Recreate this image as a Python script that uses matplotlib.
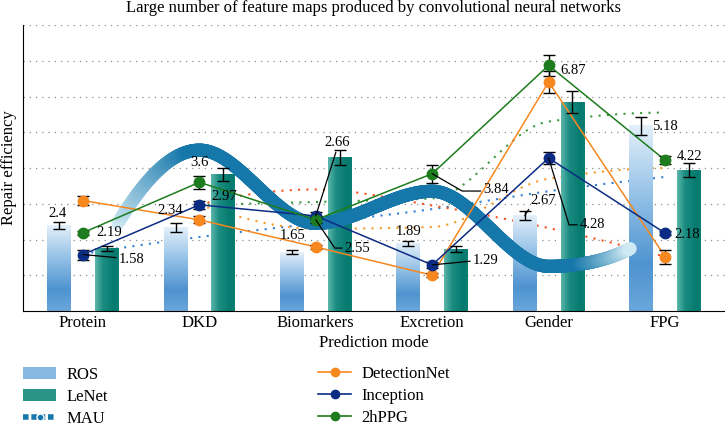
import numpy as np
import matplotlib
matplotlib.use('Agg')
import matplotlib.pyplot as plt
from matplotlib.colors import LinearSegmentedColormap, to_rgb
from matplotlib.collections import LineCollection
from matplotlib.lines import Line2D
from matplotlib.patches import Patch

plt.rcParams['font.family'] = ['Liberation Serif', 'DejaVu Serif']

# data
categories = ['Protein', 'DKD', 'Biomarkers', 'Excretion', 'Gender', 'FPG']
ros = [2.4, 2.34, 1.65, 1.89, 2.67, 5.18]
ros_err = [0.1, 0.12, 0.06, 0.08, 0.12, 0.26]
lenet = [1.75, 3.82, 4.29, 1.73, 5.84, 3.94]
lenet_err = [0.07, 0.19, 0.21, 0.08, 0.3, 0.2]
detectionnet = [3.09, 2.55, 1.79, 1.0, 6.41, 1.52]
det_err = [0.12, 0.1, 0.06, 0.06, 0.3, 0.2]
inception = [1.58, 2.97, 2.66, 1.29, 4.28, 2.18]
inc_err = [0.14, 0.12, 0.1, 0.08, 0.18, 0.06]
hppg = [2.19, 3.6, 2.55, 3.84, 6.87, 4.22]
hppg_err = [0.06, 0.18, 0.08, 0.25, 0.3, 0.12]
mau = [0.6, 4.5, 2.45, 3.35, 1.25, 2.4]

# dotted trend curves (first category index, values)
trend_blue = (0, [1.6, 2.07, 2.45, 2.85, 3.35, 3.75])
trend_red = (1, [2.97, 3.4, 2.95, 2.32, 1.52])
trend_orange = (1, [2.97, 2.3, 2.35, 3.7, 4.0])
trend_green = (1, [2.97, 3.05, 3.15, 5.3, 5.55])


def pchip_curve(start, vals, t0, t1, n=600):
    # monotone cubic through values placed at integer positions
    y = np.asarray(vals, float)
    k = len(y)
    d = np.diff(y)
    m = np.zeros(k)
    for i in range(1, k - 1):
        if d[i - 1] * d[i] > 0:
            m[i] = 2 / (1 / d[i - 1] + 1 / d[i])

    def end(d0, d1):
        s = (3 * d0 - d1) / 2
        if np.sign(s) != np.sign(d0):
            return 0.0
        if np.sign(d0) != np.sign(d1) and abs(s) > abs(3 * d0):
            return 3 * d0
        return s
    m[0] = end(d[0], d[1])
    m[-1] = end(d[-1], d[-2])
    t = np.linspace(t0, t1, n) - start
    i = np.clip(np.floor(t).astype(int), 0, k - 2)
    s = t - i
    h00 = 2 * s**3 - 3 * s**2 + 1
    h10 = s**3 - 2 * s**2 + s
    h01 = -2 * s**3 + 3 * s**2
    h11 = s**3 - s**2
    return t + start, h00 * y[i] + h10 * m[i] + h01 * y[i + 1] + h11 * m[i + 1]


fig = plt.figure(figsize=(7.25, 4.26), dpi=100)
ax = fig.add_axes([23 / 725, 1 - 311 / 426, 1 - 23 / 725, (311 - 25) / 426])
x = np.arange(len(categories))
bar_w = 0.205
off = 0.205

# gradient bars
ros_cmap = LinearSegmentedColormap.from_list(
    'ros', [(0, '#6aa7db'), (0.25, '#4f93cf'), (0.6, '#90bfe6'), (1, '#e4f0fa')])
lenet_cmap = LinearSegmentedColormap.from_list(
    'lenet', [(0, '#5cb6ab'), (0.35, '#1a8b80'), (0.8, '#077a6f'), (1, '#0c7f74')])
vgrad = np.linspace(0, 1, 256).reshape(-1, 1)
hgrad = np.linspace(0, 1, 256).reshape(1, -1)
for xi, h in zip(x - off, ros):
    ax.imshow(vgrad, cmap=ros_cmap, origin='lower', aspect='auto',
              extent=[xi - bar_w / 2, xi + bar_w / 2, 0, h], zorder=2)
for xi, h in zip(x + off, lenet):
    ax.imshow(hgrad, cmap=lenet_cmap, origin='lower', aspect='auto',
              extent=[xi - bar_w / 2, xi + bar_w / 2, 0, h], zorder=2)
ax.errorbar(x - off, ros, yerr=ros_err, fmt='none', ecolor='black',
            elinewidth=1, capsize=4, capthick=1, zorder=6)
ax.errorbar(x + off, lenet, yerr=lenet_err, fmt='none', ecolor='black',
            elinewidth=1, capsize=4, capthick=1, zorder=6)

# dotted trends
for (start, vals), color in [(trend_blue, '#3481d8'), (trend_red, '#f4511e'),
                             (trend_orange, '#f59a2a'), (trend_green, '#3c9a3c')]:
    tx, ty = pchip_curve(start, vals, start, len(vals) - 1 + start)
    ax.plot(tx, ty, color=color, lw=1.5, linestyle=(0, (1, 3)), zorder=1.5)

# MAU thick wave with faded ends
mx, my = pchip_curve(0, mau, 0.3, 4.7)
pts = np.column_stack([mx, my]).reshape(-1, 1, 2)
segs = np.concatenate([pts[:-1], pts[1:]], axis=1)
fade = np.clip(np.minimum((mx[:-1] - 0.3) / 0.6, (4.7 - mx[:-1]) / 0.45), 0, 1)
dark = np.array(to_rgb('#1677aa'))
light = np.array(to_rgb('#d6eef6'))
cols = light + (dark - light) * fade[:, None] ** 0.8
ax.add_collection(LineCollection(segs, colors=cols, linewidths=9.5,
                                 capstyle='round', zorder=3))

# solid series
series = [(detectionnet, det_err, '#f7871f', 'DetectionNet'),
          (inception, inc_err, '#0c2c84', 'Inception'),
          (hppg, hppg_err, '#1d7c1d', '2hPPG')]
for vals, err, color, lab in series:
    ax.plot(x, vals, color=color, lw=1.1, zorder=4)
    ax.errorbar(x, vals, yerr=err, fmt='none', ecolor='black',
                elinewidth=1, capsize=4, capthick=1, zorder=4.5)
    ax.plot(x, vals, linestyle='none', marker='o', ms=7.5, color=color, zorder=5)

# value labels
lab_kw = dict(fontsize=10.5, ha='center', va='center', zorder=7)
plain = [(ros[0], (-0.215, 2.74)), (hppg[0], (0.23, 2.19)), (hppg[1], (1.0, 4.14)),
         (inception[1], (1.21, 3.2)), (ros[1], (0.75, 2.8)), (ros[2], (1.8, 2.12)),
         (ros[3], (2.8, 2.21)), (hppg[4], (4.21, 6.74)), (ros[5], (5.0, 5.17)),
         (hppg[5], (5.21, 4.31)), (inception[5], (5.19, 2.13))]
for v, pos in plain:
    ax.text(pos[0], pos[1], f'{v:g}', **lab_kw)

leader = dict(arrowstyle='-', color='black', lw=0.9, shrinkA=0, shrinkB=0)
ax.annotate(f'{inception[0]:g}', (0, inception[0]), (0.42, 1.45),
            arrowprops=dict(**leader, relpos=(0, 0.6)), **lab_kw)
ax.annotate(f'{inception[2]:g}', (2, inception[2]), (2.18, 4.7),
            arrowprops=dict(**leader, relpos=(0.5, 0)), **lab_kw)
ax.annotate(f'{hppg[2]:g}', (2, hppg[2]), (2.36, 1.76),
            arrowprops=dict(**leader, relpos=(0, 0.5),
                            connectionstyle='angle,angleA=0,angleB=-56,rad=0'), **lab_kw)
ax.annotate(f'{inception[3]:g}', (3, inception[3]), (3.46, 1.4),
            arrowprops=dict(**leader, relpos=(0, 0.5)), **lab_kw)
ax.annotate(f'{hppg[3]:g}', (3, hppg[3]), (3.55, 3.41),
            arrowprops=dict(**leader, relpos=(0, 0.35),
                            connectionstyle='angle,angleA=0,angleB=-30,rad=0'), **lab_kw)
ax.annotate(f'{ros[4]:g}', (4 - off, ros[4]), (3.95, 3.1),
            arrowprops=dict(**leader, relpos=(0.05, 0.1)), **lab_kw)
ax.annotate(f'{inception[4]:g}', (4, inception[4]), (4.38, 2.41),
            arrowprops=dict(**leader, relpos=(0, 0.5),
                            connectionstyle='angle,angleA=0,angleB=-73,rad=0'), **lab_kw)

# axes styling
ax.set_xlim(-0.515, 5.515)
ax.set_ylim(0, 8)
ax.set_xticks(x)
ax.set_xticklabels(categories, fontsize=12)
ax.set_yticks(range(1, 9))
ax.yaxis.grid(True, linestyle=(0, (1, 4)), color='#8c8c8c', lw=0.9)
ax.set_axisbelow(True)
ax.tick_params(axis='y', length=0, labelleft=False)
ax.tick_params(axis='x', length=0, pad=3)
for side in ['top', 'right']:
    ax.spines[side].set_visible(False)
ax.set_xlabel('Prediction mode', fontsize=12, labelpad=3)
ax.set_ylabel('Repair efficiency', fontsize=12, labelpad=4)
fig.text(374 / 725, 1 - 8 / 426, 'Large number of feature maps produced by convolutional neural networks',
         fontsize=12, ha='center', va='center')

# legends
leg_kw = dict(loc='upper left', frameon=False, fontsize=12, handlelength=2.0,
              handletextpad=0.6, labelspacing=0.36, borderpad=0, borderaxespad=0)
left_handles = [Patch(facecolor='#86b8e3'), Patch(facecolor='#2a9488'),
                Line2D([], [], color='#1677aa', lw=4, linestyle=(0, (1, 0.5)),
                       marker='o', ms=5, mfc='#1677aa', mec='white')]
fig.legend(left_handles, ['ROS', 'LeNet', 'MAU'], bbox_to_anchor=(23 / 725, 1 - 367 / 426), **leg_kw)
right_handles = [Line2D([], [], color=c, lw=1.2, marker='o', ms=6) for _, _, c, _ in series]
fig.legend(right_handles, [s[3] for s in series], bbox_to_anchor=(318 / 725, 1 - 366 / 426), **leg_kw)

fig.savefig('out.png', dpi=100)
